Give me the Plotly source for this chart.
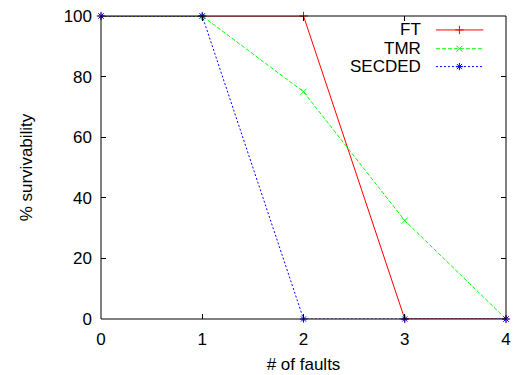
import plotly.graph_objects as go

faults = [0, 1, 2, 3, 4]
ft = [100, 100, 100, 0, 0]
tmr = [100, 100, 75, 32.5, 0]
secded = [100, 100, 0, 0, 0]

series = [
    ("FT", ft, "#ff0000", "solid", "cross-thin-open"),
    ("TMR", tmr, "#00ff00", "4px,2px", "x-thin-open"),
    ("SECDED", secded, "#0000ff", "2px,2px", "asterisk-open"),
]

FONT = "Liberation Sans"

fig = go.Figure()

for name, vals, color, dash, sym in series:
    fig.add_trace(go.Scatter(
        x=faults, y=vals, mode="lines+markers", name=name,
        line=dict(color=color, width=1, dash=dash),
        marker=dict(symbol=sym, size=6, color=color, line=dict(color=color, width=1)),
        showlegend=False, cliponaxis=False,
    ))

# key entries in the upper right, text right-aligned left of the sample
key_rows = [0.954, 0.892, 0.833]
for (name, vals, color, dash, sym), ky in zip(series, key_rows):
    fig.add_trace(go.Scatter(
        x=[0.827, 0.944], y=[ky, ky], mode="lines", xaxis="x2", yaxis="y2",
        line=dict(color=color, width=1, dash=dash), showlegend=False, hoverinfo="skip",
    ))
    fig.add_trace(go.Scatter(
        x=[0.885], y=[ky], mode="markers", xaxis="x2", yaxis="y2",
        marker=dict(symbol=sym, size=6, color=color, line=dict(color=color, width=1)),
        showlegend=False, hoverinfo="skip",
    ))
    fig.add_annotation(
        x=0.795, y=ky, xref="x2", yref="y2", text=name, showarrow=False,
        xanchor="right", yanchor="middle", font=dict(size=17, color="black", family=FONT),
    )

axis_common = dict(
    showgrid=False, zeroline=False, showline=False,
    mirror="allticks", ticks="inside", ticklen=5, tickcolor="black",
    tickfont=dict(size=17, color="black", family=FONT),
    ticklabeloverflow="allow",
)

# plot frame drawn over the data lines
fig.add_shape(type="rect", xref="paper", yref="paper", x0=0, y0=0, x1=1, y1=1,
              line=dict(color="black", width=1), layer="above")

fig.update_layout(
    width=515, height=375,
    margin=dict(l=101, r=4, t=16, b=54),
    paper_bgcolor="white", plot_bgcolor="white",
    font=dict(family=FONT, color="black"),
    xaxis=dict(range=[0, 4], tickvals=[0, 1, 2, 3, 4], ticklabelstandoff=8,
               title=dict(text="# of faults", font=dict(size=17, family=FONT), standoff=10),
               **axis_common),
    yaxis=dict(range=[0, 100], tickvals=[0, 20, 40, 60, 80, 100], ticklabelstandoff=8,
               title=dict(text="% survivability", font=dict(size=17, family=FONT), standoff=26),
               **axis_common),
    xaxis2=dict(range=[0, 1], overlaying="x", visible=False),
    yaxis2=dict(range=[0, 1], overlaying="y", visible=False),
)

fig.write_html("out.html")
